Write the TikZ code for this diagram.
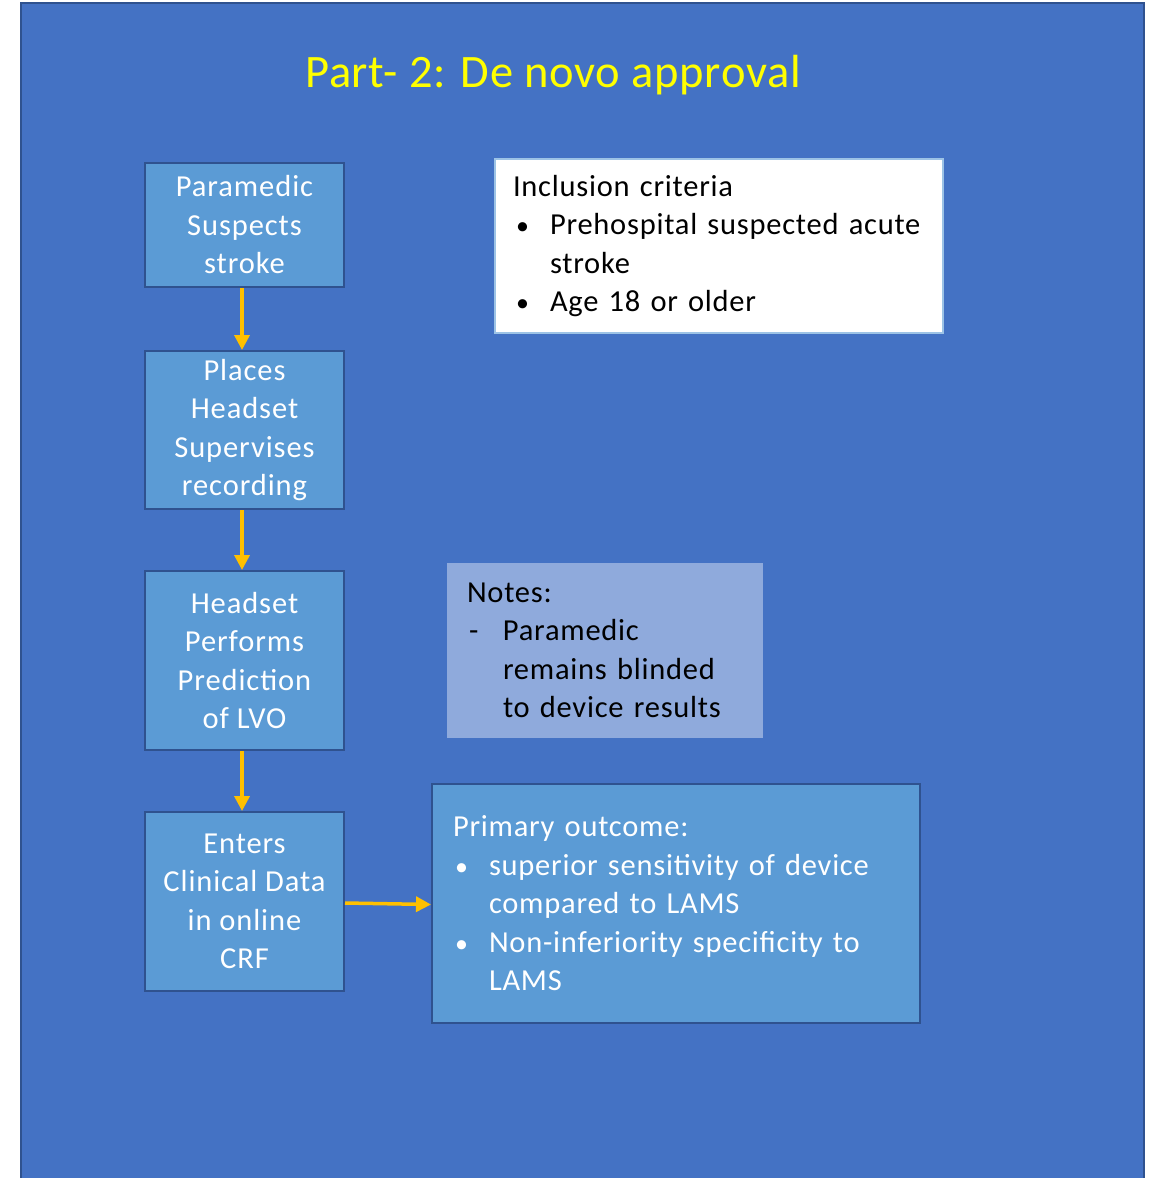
\documentclass[tikz,border=0pt]{standalone}
\usepackage{fontspec}
\setmainfont{Carlito}[LetterSpace=3]
\newfontfamily\titlefont{Carlito}[LetterSpace=1.5]
\newfontfamily\infofamily{Carlito}[LetterSpace=2.5]
\usetikzlibrary{arrows.meta}
\definecolor{bgblue}{HTML}{4472C4}
\definecolor{darkline}{HTML}{2F528F}
\definecolor{boxblue}{HTML}{5B9BD5}
\definecolor{noteblue}{HTML}{8FAADC}
\definecolor{incline}{HTML}{9DC3E6}
\definecolor{arrowgold}{HTML}{FFC000}
\definecolor{titleyellow}{HTML}{FFFF00}
\newcommand{\flowsize}{\fontsize{30.5pt}{38.5pt}\selectfont}
\newcommand{\infosize}{\infofamily\fontsize{30.5pt}{38.5pt}\selectfont\spaceskip=0.11em\relax}
\tikzset{
  flowbox/.style={draw=darkline, line width=2pt, fill=boxblue, text=white,
    font=\flowsize, align=center, inner sep=0pt, minimum width=199pt},
  infobox/.style={font=\infosize, align=left, inner sep=0pt},
  flowarrow/.style={draw=arrowgold, line width=3.5pt,
    -{Triangle[length=15pt,width=15pt]}},
}
\newcommand{\bitem}[2]{\hspace*{#1}\makebox[#2][l]{\scalebox{0.85}{•}}}
\begin{document}
\begin{tikzpicture}[x=1pt,y=-1pt]
\useasboundingbox (0,0) rectangle (1153,1178);
\fill[white] (0,0) rectangle (1153,1178);
\draw[darkline, line width=2.5pt, fill=bgblue] (21,3) rectangle (1144,1190);

\node[font=\titlefont\fontsize{46.5pt}{56pt}\selectfont, text=titleyellow] (title) at (553,75) {Part- 2: De novo approval};

\node[flowbox, minimum height=124pt] (b1) at (244.5,225) {Paramedic\\Suspects\\stroke};
\node[flowbox, minimum height=158pt] (b2) at (244.5,430) {Places\\Headset\\Supervises\\recording};
\node[flowbox, minimum height=179pt] (b3) at (244.5,660.5) {Headset\\Performs\\Prediction\\of LVO};
\node[flowbox, minimum height=179pt] (b4) at (244.5,901.5) {Enters\\Clinical Data\\in online\\CRF};

\node[draw=incline, line width=1.2pt, fill=white, text=black, infobox,
  minimum width=448pt, minimum height=174pt, text width=412pt] (inc) at (719,246)
  {Inclusion criteria\\
   \bitem{3pt}{34pt}Prehospital suspected acute\\
   \hspace*{37pt}stroke\\
   \bitem{3pt}{34pt}Age 18 or older};

\node[fill=noteblue, text=black, infobox,
  minimum width=316pt, minimum height=175pt, text width=276pt] (notes) at (605,650.5)
  {Notes:\\
   \hspace*{2pt}\makebox[34pt][l]{-}Paramedic\\
   \hspace*{36pt}remains blinded\\
   \hspace*{36pt}to device results};

\node[draw=darkline, line width=2pt, fill=boxblue, text=white, infobox,
  minimum width=488pt, minimum height=239pt, text width=446pt] (prim) at (676,903.5)
  {Primary outcome:\\
   \bitem{2pt}{34pt}superior sensitivity of device\\
   \hspace*{36pt}compared to LAMS\\
   \bitem{2pt}{34pt}Non-inferiority specificity to\\
   \hspace*{36pt}LAMS};

\draw[flowarrow] ([xshift=-2.5pt]b1.south) -- ([xshift=-2.5pt]b2.north);
\draw[flowarrow] ([xshift=-2.5pt]b2.south) -- ([xshift=-2.5pt]b3.north);
\draw[flowarrow] ([xshift=-2.5pt]b3.south) -- ([xshift=-2.5pt]b4.north);
\draw[flowarrow] ([yshift=-1.5pt]b4.east) -- ([yshift=-1pt]prim.west);
\end{tikzpicture}
\end{document}
